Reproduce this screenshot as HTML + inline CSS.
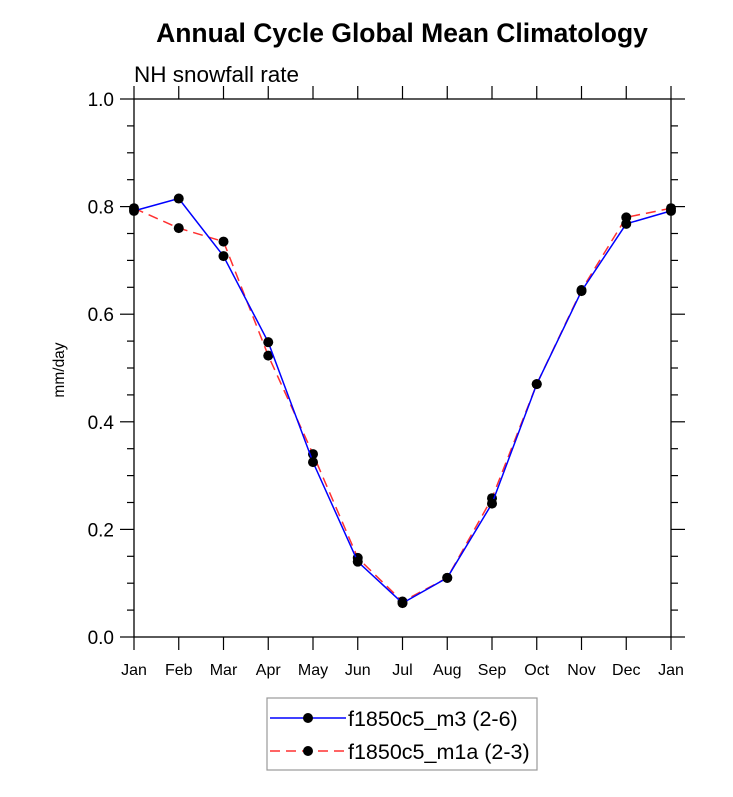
<!DOCTYPE html>
<html><head><meta charset="utf-8"><style>
body{margin:0;background:#fff}
svg text{font-family:"Liberation Sans",sans-serif}
</style></head><body>
<svg id="c" width="733" height="792" xmlns="http://www.w3.org/2000/svg">
<text x="402" y="42" font-size="26.5" font-weight="bold" text-anchor="middle">Annual Cycle Global Mean Climatology</text>
<text x="134" y="82" font-size="22.5">NH snowfall rate</text>
<text transform="translate(64,370) rotate(-90)" font-size="15.5" text-anchor="middle">mm/day</text>
<g id="axes"></g>
<g id="series"></g>
<g>
<rect x="267" y="698" width="270" height="72" fill="#fff" stroke="#999" stroke-width="1.2"/>
<g>
<line x1="270" y1="718" x2="346" y2="718" stroke="#0000ff" stroke-width="1.5"/>
<circle cx="308" cy="718" r="5" fill="#000"/>
<text x="348" y="726" font-size="21.5">f1850c5_m3 (2-6)</text></g>
<g>
<line x1="270" y1="751" x2="346" y2="751" stroke="#ff3030" stroke-width="1.5" stroke-dasharray="10,6"/>
<circle cx="308" cy="751" r="5" fill="#000"/>
<text x="348" y="759" font-size="21.5">f1850c5_m1a (2-3)</text></g>
</g>
</svg>
<script>
const months=["Jan","Feb","Mar","Apr","May","Jun","Jul","Aug","Sep","Oct","Nov","Dec","Jan"];
const m3=[0.792,0.815,0.708,0.548,0.325,0.140,0.063,0.110,0.248,0.470,0.643,0.768,0.792];
const m1a=[0.797,0.760,0.735,0.523,0.340,0.147,0.066,0.110,0.258,0.470,0.645,0.780,0.797];
const yTicks=["0.0","0.2","0.4","0.6","0.8","1.0"];
const NS="http://www.w3.org/2000/svg";
const L=134,R=671,T=99,B=637;
const xs=i=>L+(R-L)*i/(months.length-1);
const ys=v=>B-(B-T)*v/1.0;
function mk(tag,at,par){const e=document.createElementNS(NS,tag);for(const k in at)e.setAttribute(k,at[k]);par.appendChild(e);return e;}
const ax=document.getElementById('axes');
const fr=mk('rect',{x:L,y:T,width:R-L,height:B-T,fill:'none',stroke:'#000','stroke-width':1.3},ax);


months.forEach((m,i)=>{
 const x=xs(i);
 mk('line',{x1:x,y1:B,x2:x,y2:B+13,stroke:'#000','stroke-width':1.2},ax);
 mk('line',{x1:x,y1:T,x2:x,y2:T-13,stroke:'#000','stroke-width':1.2},ax);
 const t=mk('text',{x:x,y:B+38,'font-size':16,'text-anchor':'middle'},ax);t.textContent=m;
 
 
});
for(let k=0;k<=20;k++){
 const v=k*0.05,y=ys(v),maj=k%4===0,len=maj?14:7;
 mk('line',{x1:L,y1:y,x2:L-len,y2:y,stroke:'#000','stroke-width':1.2},ax);
 mk('line',{x1:R,y1:y,x2:R+len,y2:y,stroke:'#000','stroke-width':1.2},ax);
}
yTicks.forEach(s=>{
 const t=mk('text',{x:L-20,y:ys(parseFloat(s))+7,'font-size':19,'text-anchor':'end'},ax);t.textContent=s;
 
 
});
const sg=document.getElementById('series');
function draw(vals,col,dash,name){
 const g=mk('g',{},sg);
 
 
 const p=mk('polyline',{points:vals.map((v,i)=>xs(i)+','+ys(v)).join(' '),fill:'none',stroke:col,'stroke-width':1.5},g);
 if(dash)p.setAttribute('stroke-dasharray',dash);
 vals.forEach((v,i)=>{const c=mk('circle',{cx:xs(i),cy:ys(v),r:5,fill:'#000'},g);
  
  });
}
draw(m1a,'#ff3030','10,6','series-m1a');
draw(m3,'#0000ff',null,'series-m3');
</script>
</body></html>
